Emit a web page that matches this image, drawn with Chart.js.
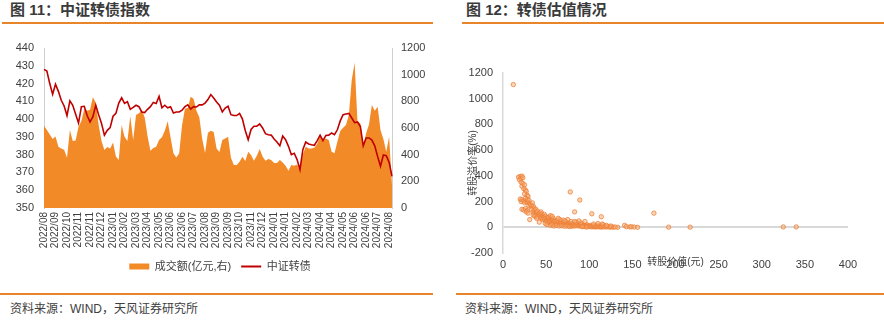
<!DOCTYPE html>
<html>
<head>
<meta charset="utf-8">
<script src="https://cdn.jsdelivr.net/npm/chart.js@4.4.1/dist/chart.umd.min.js"></script>
<style>
  body { margin: 0; width: 884px; height: 321px; background: #fff; position: relative; overflow: hidden;
         font-family: "Liberation Sans", "Noto Sans CJK SC", sans-serif; color: #404040; }
  .title { position: absolute; top: 1px; font-size: 15px; line-height: 18px; font-weight: bold; color: #3a3a3a; }
  .rule { position: absolute; height: 2px; background: #E8852B; }
  .source { position: absolute; top: 301px; font-size: 12px; line-height: 16px; }
  .box { position: absolute; }
</style>
</head>
<body>
  <div class="title" style="left:10px">图 11：中证转债指数</div>
  <div class="title" style="left:466px">图 12：转债估值情况</div>
  <div class="rule" style="left:2px;width:431px;top:22px"></div>
  <div class="rule" style="left:462px;width:422px;top:22px"></div>

  <div class="box" style="left:0;top:30px;width:440px;height:258px"><canvas id="indexChart"></canvas></div>
  <div class="box" style="left:455px;top:40px;width:429px;height:250px"><canvas id="valueChart"></canvas></div>

  <div class="rule" style="left:0;width:433px;top:293px"></div>
  <div class="rule" style="left:456px;width:428px;top:293px"></div>
  <div class="source" style="left:10px">资料来源：WIND，天风证券研究所</div>
  <div class="source" style="left:465px">资料来源：WIND，天风证券研究所</div>

<script>
  // ===== Data: 图11 =====
  const monthTicks = ['2022/08','2022/09','2022/10','2022/11','2022/11','2022/12','2023/01','2023/02',
    '2023/03','2023/04','2023/05','2023/06','2023/06','2023/07','2023/08','2023/09','2023/09','2023/10',
    '2023/11','2023/12','2024/01','2024/01','2024/02','2024/03','2024/04','2024/04','2024/05','2024/06',
    '2024/06','2024/07','2024/08'];
  const TICK_EVERY = 4; // one month label every 4 sampled points

  // 中证转债 (left axis), sampled along the period
  const indexValues = [428,427,420,414,419.6,415.6,410.6,407.4,402,410.3,
    407.8,402.7,397.8,407,407.2,402,398.4,401.4,407.8,402.5,
    397.6,391,393.7,395.2,401.6,403.2,409,412,408.8,409.8,
    405.5,406.6,407.8,407,404,403.7,405.5,407,409.4,408.8,
    412.8,406.4,407.8,406.4,407,403.4,404,404,405,407,
    408,405.6,407,406.8,408,408,409,411,413.8,411.9,
    409.6,407.8,404,406.2,407.2,402.5,402,402,403.2,400,
    393.5,388.4,394.2,396,396,397.3,395,391.8,391.2,391,
    388.8,387.1,385,390.5,388.4,384.7,380,380.8,377.2,371.6,
    382.8,387.1,386,385.6,385.3,387.9,391,387.9,390.8,391,
    392.2,391.2,394,399,402.5,402.9,403.2,400.6,398,398.4,
    395.8,385,389.4,389.4,388.2,385,379,373.5,379.8,379.4,
    375.7,367.8];

  // 成交额(亿元) (right axis)
  const turnover = [617,585,552,517,537,460,447,437,377,585,
    502,507,610,652,742,730,737,830,790,622,
    502,435,457,447,492,387,360,622,535,502,
    690,510,697,710,735,680,540,430,450,460,
    510,530,580,650,530,410,378,410,620,745,
    750,835,820,730,680,520,412,565,580,570,
    447,420,510,522,535,377,322,322,347,385,
    352,422,397,355,392,442,387,355,367,360,
    337,337,360,342,317,280,322,317,327,285,
    402,460,447,447,452,482,540,510,522,510,
    422,410,497,577,602,622,697,960,1090,647,
    635,460,560,627,772,730,760,585,517,422,
    535,172];

  // ===== Data: 图12 =====
  const convValue = [12,78,89,103,83,114,175,133,141,143,147,149,152,156,192,217,325,340,
    18,20,21,22,23,19,21,23,22,25,24,26,27,25,28,29,
    20,21,22,24,26,25,27,28,29,30,31,22,24,26,28,30,32,33,34,35,36,27,29,
    31,33,35,36,37,38,39,40,41,42,43,44,45,38,40,42,44,46,47,48,35,37,39,
    45,46,47,48,49,50,51,52,53,54,55,56,57,58,59,60,50,52,54,56,58,60,49,53,55,57,51,55,57,59,
    61,62,63,64,65,66,67,68,69,70,71,72,73,74,75,76,77,78,79,80,62,65,68,71,74,77,80,70,75,72,79,66,64,
    81,82,83,84,85,86,87,88,89,90,91,92,93,94,95,96,97,98,99,100,85,90,95,88,83,92,97,
    101,102,103,104,105,106,107,108,109,110,111,112,113,114,115,116,117,118,120,122,124,126,128,130,105,110,115,120,125];
  const premium = [1110,275,212,105,120,82,110,0,15,5,3,4,2,0,1,1,3,3,
    390,395,380,398,385,370,350,340,320,330,300,290,280,260,250,240,
    220,200,215,205,225,190,200,215,195,210,185,140,135,145,130,170,175,160,190,165,150,120,110,
    60,140,120,105,130,140,115,125,100,110,95,120,105,90,80,40,75,90,80,100,95,85,70,
    70,60,75,65,85,70,55,75,60,50,65,45,55,70,40,50,45,35,40,30,35,25,30,80,90,85,20,15,20,10,
    45,30,55,35,40,25,45,30,20,35,25,40,30,20,35,25,15,30,20,25,15,10,12,8,10,5,8,55,60,50,45,60,70,
    15,25,10,20,15,30,10,20,12,18,8,25,10,15,5,12,20,8,10,5,40,35,45,50,45,5,2,
    15,8,3,12,5,10,2,6,15,4,8,3,10,2,5,20,3,7,2,5,1,3,1,2,25,30,25,15,10];

  // ===== Styles =====
  const AREA = '#F38A28';
  const RED = '#C00000';
  const TEXT = '#404040';
  const AXIS = '#d0d0d0';
  const plain = v => String(v); // no thousands separator, as in the source
  Chart.defaults.font.family = '"Liberation Sans", "Noto Sans CJK SC", sans-serif';
  Chart.defaults.color = TEXT;

  const categories = indexValues.map((v, i) => i % TICK_EVERY === 0 ? (monthTicks[i / TICK_EVERY] || '') : '');

  new Chart(document.getElementById('indexChart'), {
    type: 'line',
    data: {
      labels: categories,
      datasets: [
        { label: '成交额(亿元,右)', data: turnover, yAxisID: 'y1', fill: 'origin', backgroundColor: AREA,
          borderWidth: 0, pointRadius: 0, tension: 0, order: 1 },
        { label: '中证转债', data: indexValues, yAxisID: 'y', fill: false, borderColor: RED,
          borderWidth: 1.6, pointRadius: 0, tension: 0, order: 0 }
      ]
    },
    options: {
      responsive: true,
      maintainAspectRatio: false,
      animation: false,
      layout: { padding: { top: 18, right: 0, bottom: 6, left: 0 } },
      plugins: {
        tooltip: { enabled: false },
        legend: {
          position: 'bottom',
          labels: {
            usePointStyle: true, pointStyleWidth: 20, boxHeight: 6, padding: 10,
            font: { size: 11 }, color: TEXT,
            generateLabels: () => [
              { text: '成交额(亿元,右)', fillStyle: AREA, strokeStyle: AREA, lineWidth: 0, pointStyle: 'rect', fontColor: TEXT, datasetIndex: 0 },
              { text: '中证转债', fillStyle: RED, strokeStyle: RED, lineWidth: 2, pointStyle: 'line', fontColor: TEXT, datasetIndex: 1 }
            ]
          }
        }
      },
      scales: {
        x: {
          grid: { display: false, drawTicks: false },
          border: { display: false },
          ticks: { autoSkip: false, maxRotation: 90, minRotation: 90, padding: 4, font: { size: 10 }, color: TEXT },
          afterFit: s => { s.height = 43; }
        },
        y: {
          position: 'left', min: 350, max: 440,
          grid: { display: false, drawTicks: false },
          border: { display: true, color: AXIS, width: 1 },
          ticks: { stepSize: 10, padding: 10, font: { size: 11 }, color: TEXT, callback: plain },
          afterFit: s => { s.width = 44; }
        },
        y1: {
          position: 'right', min: 0, max: 1200,
          grid: { display: false, drawTicks: false },
          border: { display: true, color: AXIS, width: 1 },
          ticks: { stepSize: 200, padding: 9, font: { size: 11 }, color: TEXT, callback: plain },
          afterFit: s => { s.width = 48; }
        }
      }
    }
  });

  new Chart(document.getElementById('valueChart'), {
    type: 'scatter',
    data: {
      datasets: [{
        data: convValue.map((x, i) => ({ x, y: premium[i] })),
        pointRadius: 2.2,
        pointBorderWidth: 1,
        backgroundColor: 'rgba(245,170,115,0.5)',
        borderColor: 'rgba(237,125,49,0.75)'
      }]
    },
    options: {
      responsive: true,
      maintainAspectRatio: false,
      animation: false,
      layout: { padding: { top: 33, right: 36, bottom: 0, left: 0 } },
      plugins: { legend: { display: false }, tooltip: { enabled: false } },
      scales: {
        x: {
          type: 'linear', min: 0, max: 400,
          grid: { display: false, drawTicks: false },
          border: { display: false },
          ticks: { stepSize: 50, padding: 5, font: { size: 11 }, color: TEXT, callback: plain },
          title: { display: true, text: '转股价值(元)', font: { size: 10 }, color: TEXT, padding: { top: 0, bottom: 22 } },
          afterFit: s => { s.height = 37; }
        },
        y: {
          min: -200, max: 1200,
          grid: { drawTicks: false, lineWidth: 2, color: c => (c.tick && c.tick.value === 0) ? '#d9d9d9' : 'rgba(0,0,0,0)' },
          border: { display: true, color: '#d9d9d9', width: 1.5 },
          ticks: { stepSize: 200, padding: 10, font: { size: 11 }, color: TEXT, callback: plain },
          title: { display: true, text: '转股溢价率(%)', font: { size: 10 }, color: TEXT, padding: { top: 12, bottom: 0 } },
          afterFit: s => { s.width = 48; }
        }
      }
    }
  });
</script>
</body>
</html>
